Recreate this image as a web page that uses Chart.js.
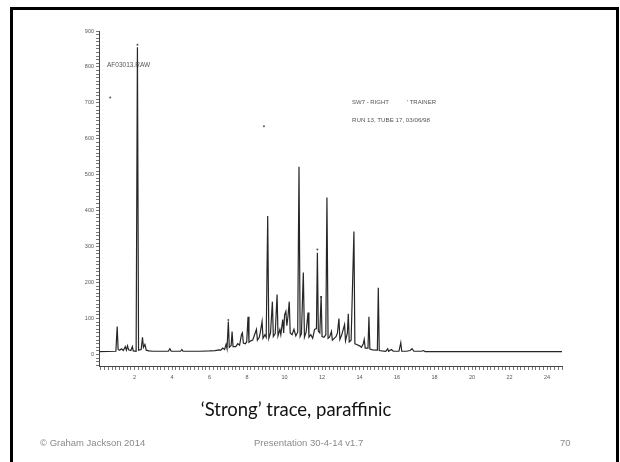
<!DOCTYPE html>
<html>
<head>
<meta charset="utf-8">
<title>'Strong' trace, paraffinic</title>
<script src="https://cdn.jsdelivr.net/npm/chart.js@4.4.0/dist/chart.umd.min.js"></script>
<style>
  html, body { margin: 0; padding: 0; background: #fff; }
  #slide { position: relative; width: 620px; height: 462px; overflow: hidden; background: #fff; }
  #frame { position: absolute; left: 10px; top: 7px; width: 603px; height: 470px; border: 3px solid #000; }
  #chartBox { position: absolute; left: 0; top: 0; width: 620px; height: 462px; }
  .note { position: absolute; font-family: 'Liberation Sans', Arial, sans-serif; font-size: 6px; color: #555; white-space: nowrap; }
  #caption { position: absolute; left: 0; width: 592px; top: 398px; text-align: center; font-family: Lato, 'Open Sans', sans-serif; font-size: 18.5px; color: #111; }
  .foot { position: absolute; top: 437px; font-family: 'Liberation Sans', Arial, sans-serif; font-size: 9.5px; color: #8a8a8a; white-space: nowrap; }
</style>
</head>
<body>
<div id="slide">
  <div id="frame"></div>
  <div id="chartBox"><canvas id="chromChart"></canvas></div>
  <div class="note" style="left:107px; top:61px; font-size:6.5px;">AF03013.RAW</div>
  <div class="note" style="left:352px; top:99px;">SW7 - RIGHT</div>
  <div class="note" style="left:407px; top:99px;">' TRAINER</div>
  <div class="note" style="left:352px; top:116px; font-size:6.2px;">RUN 13, TUBE 17, 03/06/98</div>
  <div id="caption">‘Strong’ trace, paraffinic</div>
  <div class="foot" style="left:40px;">© Graham Jackson 2014</div>
  <div class="foot" style="left:254px;">Presentation 30-4-14 v1.7</div>
  <div class="foot" style="left:560px;">70</div>
</div>

<script>
// Retention time (min) and detector response
const retentionTimes = [
  0.10, 1.00, 1.07, 1.12, 1.20, 1.30, 1.40, 1.50, 1.56, 1.62, 1.68, 1.80, 1.88, 1.93,
  2.08, 2.15, 2.21, 2.35, 2.42, 2.47, 2.55, 2.62, 2.75, 3.00, 3.80, 3.88, 3.95,
  4.45, 4.52, 4.58, 5.50, 6.00, 6.30, 6.50, 6.60, 6.70, 6.80, 6.88, 6.93,
  7.00, 7.05, 7.15, 7.20, 7.25, 7.40, 7.50, 7.60, 7.70, 7.75, 7.80, 7.90, 7.98,
  8.05, 8.10, 8.20, 8.30, 8.40, 8.50, 8.55, 8.65, 8.70, 8.80, 8.85, 8.95, 9.02,
  9.10, 9.16, 9.25, 9.35, 9.40, 9.50, 9.60, 9.65, 9.75, 9.80, 9.90, 9.95,
  10.00, 10.07, 10.12, 10.18, 10.25, 10.30, 10.40, 10.50, 10.60, 10.70, 10.77, 10.83, 10.90,
  11.00, 11.06, 11.15, 11.25, 11.30, 11.40, 11.50, 11.60, 11.70, 11.75, 11.80, 11.88, 11.95,
  12.00, 12.10, 12.20, 12.26, 12.32, 12.40, 12.50, 12.55, 12.65, 12.75, 12.82, 12.90, 12.95,
  13.05, 13.20, 13.25, 13.35, 13.40, 13.45, 13.55, 13.70, 13.75, 13.85,
  14.00, 14.10, 14.20, 14.25, 14.30, 14.45, 14.50, 14.55, 14.70, 14.85, 14.95,
  15.00, 15.05, 15.20, 15.40, 15.50, 15.55, 15.70, 15.80,
  16.10, 16.20, 16.25, 16.50, 16.70, 16.80, 16.90, 17.30, 17.40, 17.50, 24.80
];
const responses = [
  8, 9, 78, 14, 12, 16, 11, 22, 12, 24, 13, 11, 22, 10,
  9, 855, 12, 14, 48, 20, 28, 12, 10, 9, 9, 16, 9,
  9, 14, 9, 9, 10, 11, 13, 12, 18, 14, 28, 16,
  92, 20, 25, 64, 22, 22, 30, 26, 55, 60, 32, 30, 35,
  105, 34, 38, 40, 55, 70, 40, 48, 60, 92, 45, 55, 48,
  385, 45, 60, 147, 50, 58, 167, 52, 70, 55, 97, 60,
  110, 120, 80, 105, 147, 60, 55, 70, 52, 62, 522, 50, 58,
  228, 48, 62, 117, 48, 55, 45, 70, 72, 283, 65, 60, 163,
  50, 48, 55, 437, 45, 48, 64, 40, 45, 50, 60, 100, 42,
  55, 83, 38, 60, 113, 35, 40, 342, 30, 28,
  24, 20, 30, 42, 18, 18, 105, 15, 13, 12, 12,
  186, 11, 10, 9, 16, 9, 14, 9,
  9, 33, 9, 9, 11, 16, 9, 9, 11, 8, 8
];

// Little pen marks left above some peaks on the printout
const markTimes = [2.15, 0.70, 7.00, 8.90, 11.75, 11.95];
const markValues = [862, 715, 96, 635, 292, 160];

// Axis labels
const yTickLabels = [0, 100, 200, 300, 400, 500, 600, 700, 800, 900];
const xTickLabels = [2, 4, 6, 8, 10, 12, 14, 16, 18, 20, 22, 24];

let chromChart = null;

/**
 * Build minor ticks between the labelled ones
 */
function minorTicks(from, to, step) {
  const list = [];
  for (let v = from; v <= to + 1e-9; v += step) list.push({ value: Math.round(v * 100) / 100 });
  return list;
}

function isLabelled(labels, value) {
  return labels.some(l => Math.abs(l - value) < 1e-6);
}

/**
 * Render the chromatogram
 */
function renderChromatogram() {
  const ctx = document.getElementById('chromChart').getContext('2d');
  if (chromChart) chromChart.destroy();

  const trace = retentionTimes.map((t, i) => ({ x: t, y: responses[i] }));
  const marks = markTimes.map((t, i) => ({ x: t, y: markValues[i] }));

  chromChart = new Chart(ctx, {
    type: 'line',
    data: {
      datasets: [
        {
          label: 'AF03013.RAW',
          data: trace,
          borderColor: '#262626',
          borderWidth: 1.2,
          pointRadius: 0,
          tension: 0,
          fill: false,
        },
        {
          type: 'scatter',
          label: 'marks',
          data: marks,
          pointRadius: 1,
          pointBackgroundColor: '#555',
          pointBorderWidth: 0,
        },
      ],
    },
    options: {
      responsive: true,
      maintainAspectRatio: false,
      animation: false,
      layout: { padding: { left: 0, right: 58, top: 31, bottom: 76 } },
      plugins: {
        legend: { display: false },
        tooltip: { enabled: false },
      },
      scales: {
        x: {
          type: 'linear',
          min: 0.1,
          max: 24.8,
          afterBuildTicks: scale => { scale.ticks = minorTicks(0.2, 24.8, 0.2); },
          afterFit: scale => { scale.height = 20; },
          border: { display: true, color: '#444', width: 1 },
          grid: { drawOnChartArea: false, drawTicks: true, tickLength: 4, color: '#777' },
          ticks: {
            autoSkip: false,
            maxRotation: 0,
            padding: 4,
            color: '#555',
            font: { family: 'Liberation Sans', size: 5.5 },
            callback: v => (isLabelled(xTickLabels, v) ? String(v) : ''),
          },
        },
        y: {
          type: 'linear',
          min: -32,
          max: 900,
          afterBuildTicks: scale => { scale.ticks = minorTicks(-30, 900, 10); },
          afterFit: scale => { scale.width = 99; },
          border: { display: true, color: '#444', width: 1 },
          grid: { drawOnChartArea: false, drawTicks: true, tickLength: 3, color: '#777' },
          ticks: {
            autoSkip: false,
            padding: 2,
            color: '#555',
            font: { family: 'Liberation Sans', size: 5.5 },
            callback: v => (isLabelled(yTickLabels, v) ? String(v) : ''),
          },
        },
      },
    },
  });
}

document.addEventListener('DOMContentLoaded', renderChromatogram);
</script>
</body>
</html>
